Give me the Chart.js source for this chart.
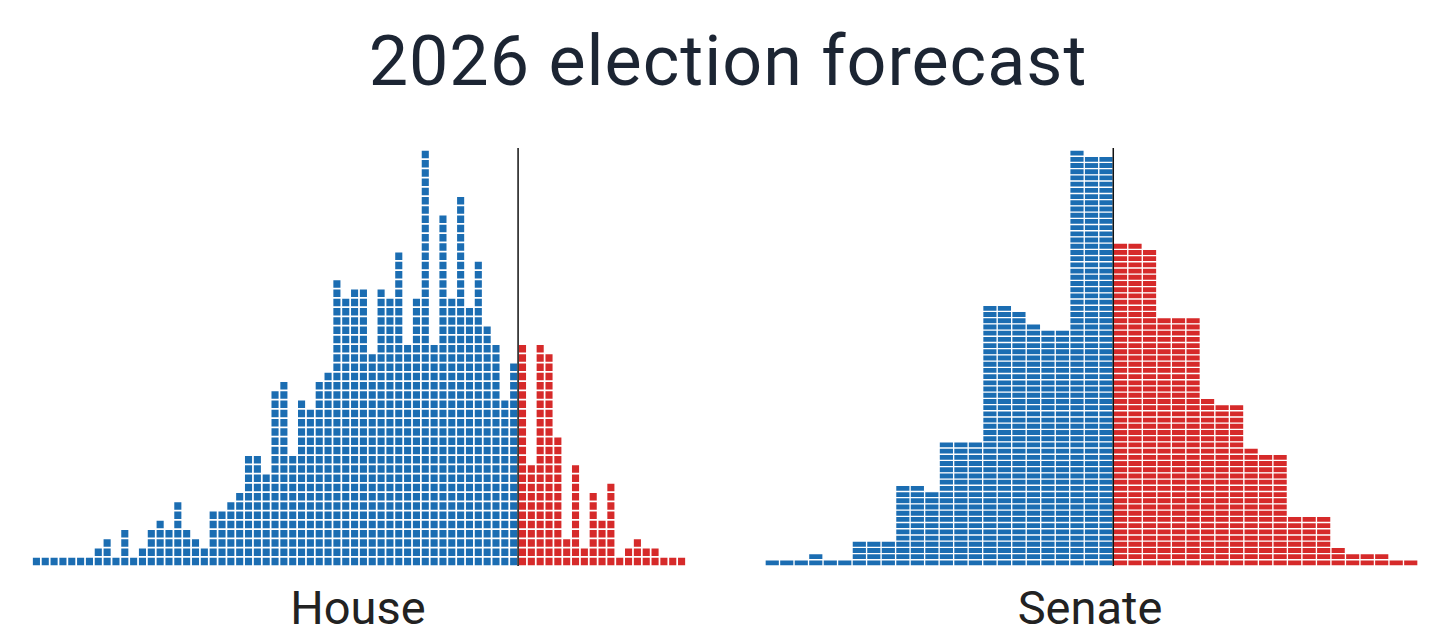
<!DOCTYPE html>
<html>
<head>
<meta charset="utf-8">
<script src="https://cdn.jsdelivr.net/npm/chart.js@4"></script>
<style>
  body { margin: 0; background: #fff; width: 1456px; height: 636px; overflow: hidden; font-family: Roboto, sans-serif; }
  #title { position: absolute; left: 0; width: 1456px; top: 20px; text-align: center; font-size: 70px; color: #1c2533; font-weight: 400; letter-spacing: 1px; }
  .lbl { position: absolute; top: 580px; font-size: 47px; color: #222; text-align: center; width: 400px; }
  .box { position: absolute; top: 146px; height: 420px; }
</style>
</head>
<body>
<div id="title">2026 election forecast</div>
<div class="box" style="left:32px;width:654px"><canvas id="house"></canvas></div>
<div class="box" style="left:765px;width:653px"><canvas id="senate"></canvas></div>
<div class="lbl" style="left:158px">House</div>
<div class="lbl" style="left:890px">Senate</div>
<script>
// squares per column, left of the line (blue) and right of it (red)
const house_dem = [1,1,1,1,1,1,1,2,3,1,4,1,2,4,5,4,7,4,3,2,6,6,7,8,12,12,10,19,20,12,
                   18,17,20,21,31,29,30,30,23,30,29,34,24,29,45,24,38,29,40,28,33,26,24,18,22]
const house_rep = [24,11,24,23,14,3,11,2,8,5,9,1,2,3,2,2,1,1,1]
const senate_dem = [1,1,1,2,1,1,4,4,4,13,13,12,20,20,20,42,42,41,39,38,38,67,66,66]
const senate_rep = [52,52,51,40,40,40,27,26,26,19,18,18,8,8,8,3,2,2,2,1,1]
const house_max = 45
const senate_max = 67

const BLUE = '#1b6db2'
const RED = '#d62a2a'

const splitLine = {
    id: 'splitLine',
    afterDatasetsDraw(chart, args, opts) {
        const x = chart.scales.x
        const px = (x.getPixelForValue(opts.at - 1) + x.getPixelForValue(opts.at)) / 2
        const ctx = chart.ctx
        ctx.save()
        ctx.strokeStyle = '#111'
        ctx.lineWidth = 1.5
        ctx.beginPath()
        ctx.moveTo(px, chart.chartArea.top - 2)
        ctx.lineTo(px, chart.chartArea.bottom)
        ctx.stroke()
        ctx.restore()
    }
}

const makeChart = (id, dem, rep, ymax, border) => {
    const counts = dem.concat(rep)
    const labels = counts.map((c, i) => i)
    const colors = counts.map((c, i) => i < dem.length ? BLUE : RED)
    const datasets = []
    for (let k = 0; k < ymax; k++) {
        datasets.push({
            data: counts.map(c => c > k ? 1 : null),
            backgroundColor: colors,
            borderColor: '#ffffff',
            borderWidth: border,
            borderSkipped: false,
            barPercentage: 1,
            categoryPercentage: 1
        })
    }
    new Chart(document.getElementById(id), {
        type: 'bar',
        data: { labels: labels, datasets: datasets },
        options: {
            responsive: true,
            maintainAspectRatio: false,
            animation: false,
            layout: { padding: { top: 4, left: 0, right: 0, bottom: 0 } },
            plugins: { legend: { display: false }, tooltip: { enabled: false }, splitLine: { at: dem.length } },
            scales: {
                x: { display: false, stacked: true },
                y: { display: false, stacked: true, min: 0, max: ymax }
            }
        },
        plugins: [splitLine]
    })
}

makeChart('house', house_dem, house_rep, house_max, 1.2)
makeChart('senate', senate_dem, senate_rep, senate_max, 1)
</script>
</body>
</html>
